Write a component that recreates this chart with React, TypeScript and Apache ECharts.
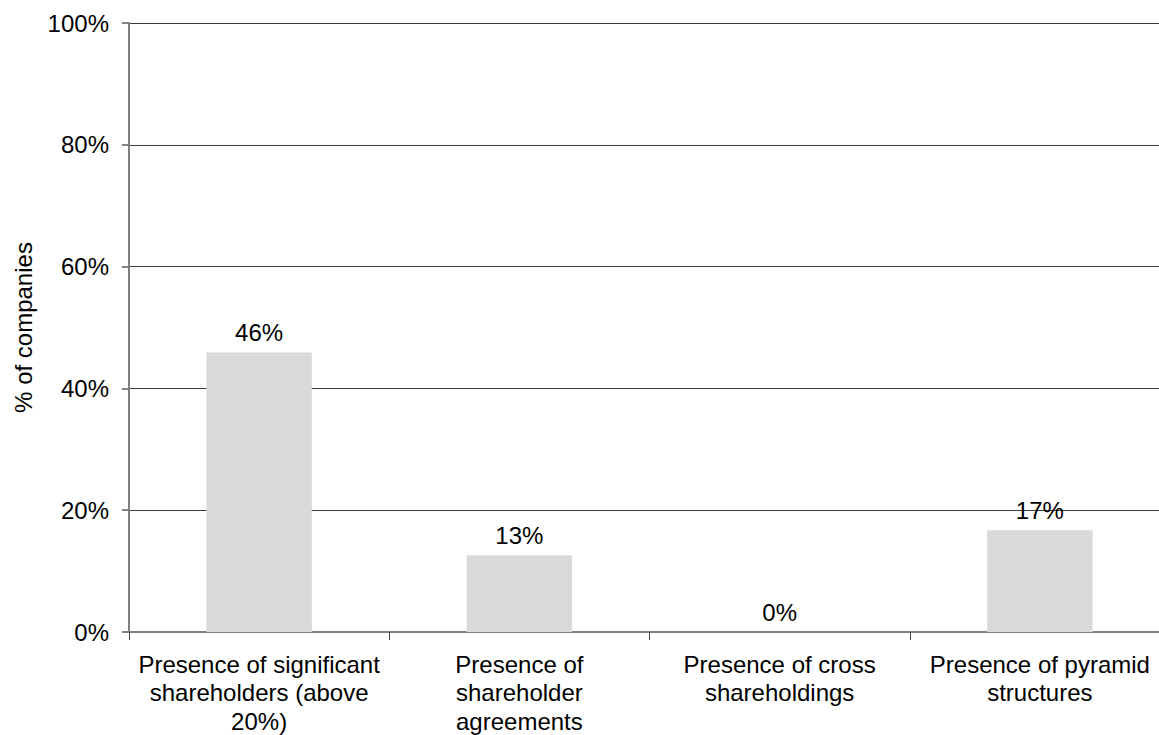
import React, { useEffect, useRef } from "react";
import * as echarts from "echarts";

const categories = [
  "Presence of significant\nshareholders (above\n20%)",
  "Presence of\nshareholder\nagreements",
  "Presence of cross\nshareholdings",
  "Presence of pyramid\nstructures",
];
const values = [45.9, 12.6, 0, 16.7];
const yTicks = [0, 20, 40, 60, 80, 100];

export default function App() {
  const ref = useRef<HTMLDivElement>(null);
  useEffect(() => {
    if (!ref.current) return;
    const chart = echarts.init(ref.current, null, { renderer: "svg" });
    const font = "'Liberation Sans', Arial, sans-serif";
    chart.setOption({
      animation: false,
      backgroundColor: "#ffffff",
      textStyle: { fontFamily: font },
      grid: {
        left: 129,
        top: 23,
        width: 1041,
        height: 609,
        containLabel: false,
        outerBoundsMode: "none",
      },
      xAxis: {
        type: "category",
        data: categories,
        axisLine: { show: true, lineStyle: { color: "#808080", width: 2 } },
        axisTick: { show: true, alignWithLabel: false, length: 8, lineStyle: { color: "#404040" } },
        axisLabel: {
          color: "#000",
          fontSize: 24,
          fontFamily: font,
          lineHeight: 28.5,
          margin: 18,
          interval: 0,
          align: "center",
        },
      },
      yAxis: {
        type: "value",
        min: 0,
        max: 100,
        interval: 20,
        name: "% of companies",
        nameLocation: "middle",
        nameGap: 94,
        nameRotate: 90,
        nameTextStyle: { color: "#000", fontSize: 24, fontFamily: font },
        axisLine: { show: true, lineStyle: { color: "#808080", width: 2 } },
        axisTick: { show: true, length: 7, lineStyle: { color: "#808080", width: 2 } },
        splitLine: { show: true, lineStyle: { color: "#3a3a3a", width: 1 } },
        axisLabel: {
          color: "#000",
          fontSize: 24,
          fontFamily: font,
          margin: 20,
          formatter: (v: number) => (yTicks.includes(v) ? `${v}%` : ""),
        },
      },
      series: [
        {
          type: "bar",
          data: values,
          barWidth: "40.5%",
          itemStyle: { color: "#d9d9d9" },
          label: {
            show: true,
            position: "top",
            distance: 8,
            color: "#000",
            fontSize: 24,
            fontFamily: font,
            formatter: (p: any) => `${Math.round(p.value)}%`,
          },
        },
      ],
    });
    return () => chart.dispose();
  }, []);
  return (
    <div style={{ position: "fixed", left: 0, top: 0, width: 1159, height: 735, overflow: "hidden" }}>
      <div ref={ref} style={{ width: 1180, height: 735 }} />
    </div>
  );
}
